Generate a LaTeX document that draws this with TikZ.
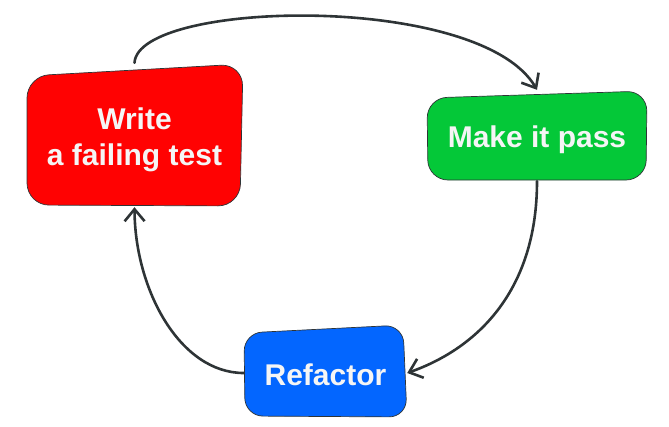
\documentclass[tikz,border=0pt]{standalone}
\usepackage{fontspec}
\setmainfont{Liberation Sans}
\usetikzlibrary{arrows.meta}
\definecolor{boxred}{RGB}{255,2,2}
\definecolor{boxgreen}{RGB}{4,200,56}
\definecolor{boxblue}{RGB}{3,102,255}
\definecolor{ink}{RGB}{46,52,54}
\definecolor{txt}{RGB}{245,245,245}
\begin{document}
\begin{tikzpicture}[x=1pt,y=-1pt,
  boxshape/.style={draw=ink, line width=0.7pt, rounded corners=22pt},
  lbl/.style={inner sep=0pt, text=txt, font=\bfseries\fontsize{30}{36}\selectfont, align=center},
  flow/.style={draw=ink, line width=2.6pt, line cap=round, -{Straight Barb[length=12pt,width=20pt]}}]
\useasboundingbox (0,0) rectangle (669,426);
% box shapes
\path[boxshape, fill=boxred] (27,76) -- (243,64) -- (240,206) -- (27,205) -- cycle;
\path[boxshape, fill=boxgreen, rounded corners=20pt] (427,98) -- (647,91) -- (646,180) -- (428,180) -- cycle;
\path[boxshape, fill=boxblue, rounded corners=18pt] (244,333) -- (403,325) -- (407,417) -- (245,416) -- cycle;
% nodes
\node[lbl, minimum width=215pt, minimum height=134pt] (write) at (134.5,140) {Write\\a failing test};
\node[lbl, minimum width=220pt, minimum height=82pt] (pass) at (537,140) {Make it pass};
\node[lbl, minimum width=163pt, minimum height=90pt] (refactor) at (325.5,375) {Refactor};
% connectors
\draw[flow] ([yshift=10pt]write.north) .. controls (138,0) and (480,-8) .. ([yshift=9pt]pass.north);
\draw[flow] (pass.south) .. controls (537,290) and (478,348) .. ([yshift=2pt]refactor.east);
\draw[flow] ([yshift=2pt]refactor.west) .. controls (180,373) and (135,290) .. (write.south);
\end{tikzpicture}
\end{document}
